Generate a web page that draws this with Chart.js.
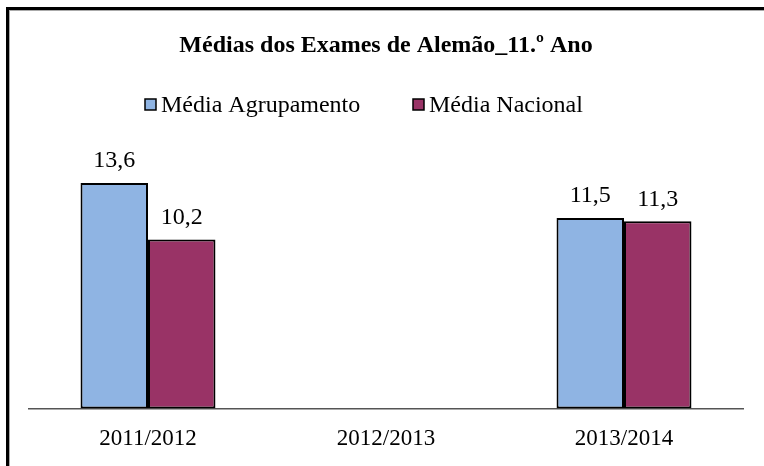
<!DOCTYPE html>
<html>
<head>
<meta charset="utf-8">
<script src="https://cdn.jsdelivr.net/npm/chart.js@4"></script>
<style>
  html, body { margin: 0; padding: 0; background: #fff; }
  canvas { display: block; }
</style>
</head>
<body>
<canvas id="mycanvas" width="764" height="466"></canvas>
<script>
// data
var anos = ['2011/2012', '2012/2013', '2013/2014'];
var mediaAgrupamento = [13.6, null, 11.5];
var mediaNacional = [10.2, null, 11.3];
var titulo = 'Médias dos Exames de Alemão_11.º Ano';

var serif = '"Liberation Serif", "Times New Roman", serif';

// black frame on the top and left edges
var framePlugin = {
  id: 'frame',
  beforeDraw: function(chart) {
    var ctx = chart.ctx;
    ctx.save();
    ctx.fillStyle = '#fff';
    ctx.fillRect(0, 0, chart.width, chart.height);
    ctx.fillStyle = '#000';
    ctx.fillRect(6, 7, chart.width, 3);
    ctx.fillRect(6, 7, 3, chart.height);
    ctx.fillStyle = '#aaa';
    ctx.fillRect(9, 10, chart.width, 1);
    ctx.fillRect(9, 10, 1, chart.height);
    ctx.restore();
  }
};

// legend drawn by hand so it sits where the original has it
var legendPlugin = {
  id: 'legendBoxes',
  afterDraw: function(chart) {
    var ctx = chart.ctx;
    var xs = [145, 413];
    var y = 105;
    ctx.save();
    chart.data.datasets.forEach(function(ds, i) {
      var x = xs[i];
      ctx.fillStyle = ds.backgroundColor;
      ctx.fillRect(x, y - 6, 11, 11);
      ctx.strokeStyle = '#000';
      ctx.lineWidth = 1.5;
      ctx.strokeRect(x, y - 6, 11, 11);
      ctx.fillStyle = '#000';
      ctx.font = '24px ' + serif;
      ctx.textAlign = 'left';
      ctx.textBaseline = 'middle';
      ctx.fillText(ds.label, x + 16, y + 1);
    });
    ctx.restore();
  }
};

// value labels above the bars, with a decimal comma
var valuePlugin = {
  id: 'values',
  afterDatasetsDraw: function(chart) {
    var ctx = chart.ctx;
    ctx.save();
    ctx.fillStyle = '#000';
    ctx.font = '24px ' + serif;
    ctx.textAlign = 'center';
    ctx.textBaseline = 'middle';
    chart.data.datasets.forEach(function(ds, i) {
      var meta = chart.getDatasetMeta(i);
      meta.data.forEach(function(bar, j) {
        var v = ds.data[j];
        if (v === null || v === undefined) return;
        ctx.fillText(v.toFixed(1).replace('.', ','), bar.x, bar.y - 22);
      });
    });
    ctx.restore();
  }
};

var chartdata = {
  labels: anos,
  datasets: [
    {
      label: 'Média Agrupamento',
      backgroundColor: '#8FB4E3',
      borderColor: '#000',
      borderWidth: 2,
      borderSkipped: false,
      data: mediaAgrupamento
    },
    {
      label: 'Média Nacional',
      backgroundColor: '#993366',
      borderColor: '#000',
      borderWidth: 2,
      borderSkipped: false,
      data: mediaNacional
    }
  ]
};

var ctx = document.getElementById('mycanvas');
var barGraph = new Chart(ctx, {
  type: 'bar',
  data: chartdata,
  plugins: [framePlugin, legendPlugin, valuePlugin],
  options: {
    responsive: false,
    animation: false,
    layout: { padding: { top: 10, left: 29, right: 21, bottom: 4 } },
    datasets: {
      bar: { categoryPercentage: 0.567, barPercentage: 1.0 }
    },
    plugins: {
      legend: { display: false },
      tooltip: { enabled: false },
      title: {
        display: true,
        text: titulo,
        color: '#000',
        font: { family: serif, size: 24, weight: 'bold' },
        padding: { top: 21, bottom: 67 }
      }
    },
    scales: {
      x: {
        grid: { display: false },
        border: { display: true, color: '#555', width: 1.5 },
        ticks: {
          color: '#000',
          font: { family: serif, size: 23 },
          padding: 9
        }
      },
      y: {
        display: false,
        min: 0,
        max: 17
      }
    }
  }
});
</script>
</body>
</html>
